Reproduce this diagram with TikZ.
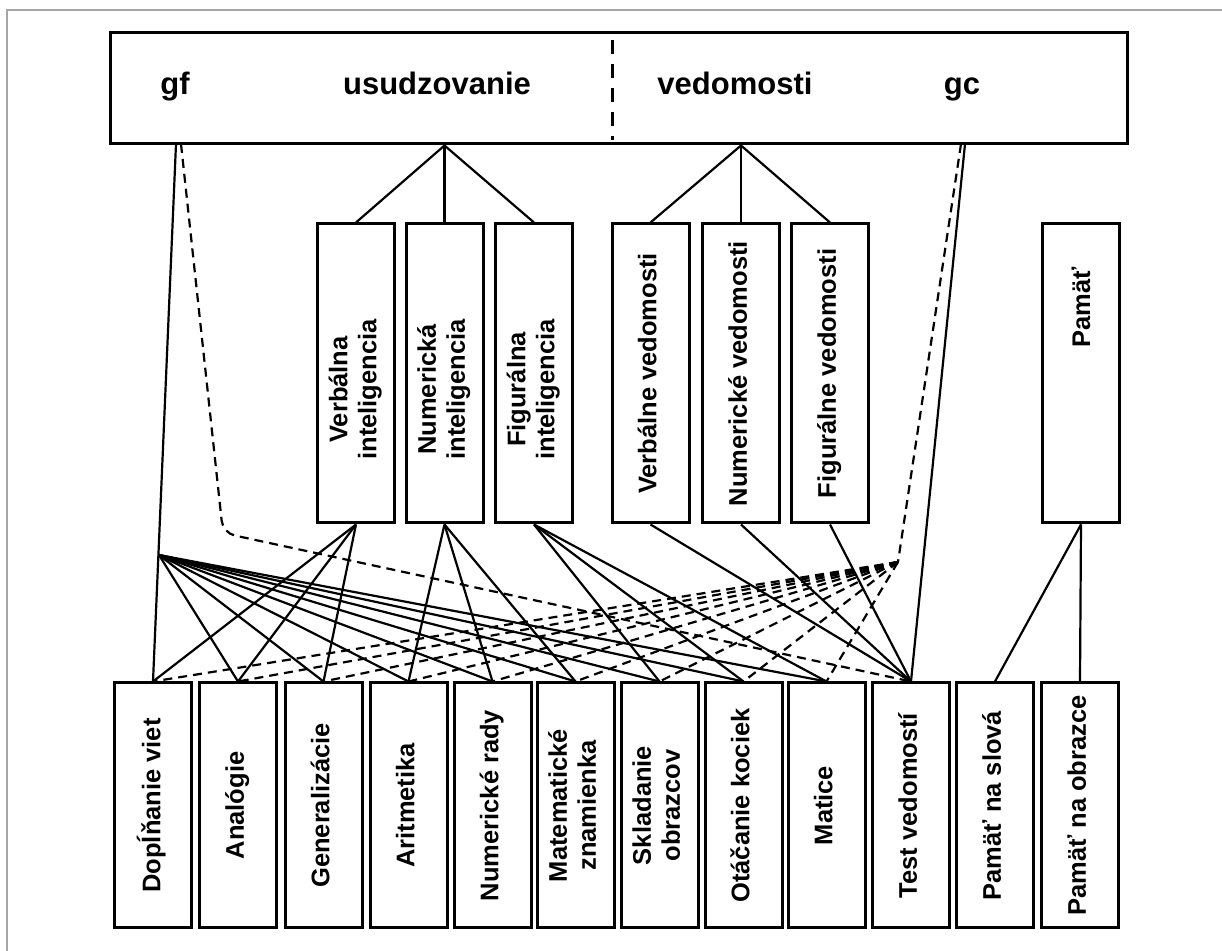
\documentclass[tikz,border=0pt]{standalone}
\usepackage{fontspec}
\setmainfont{Liberation Sans}
\usepackage{graphicx}
\usetikzlibrary{calc}

\newcommand{\vlab}[1]{\rotatebox{90}{\begin{tabular}{@{}c@{}}#1\end{tabular}}}
% two-line group labels sit a little below the middle of their box
\newcommand{\vlablow}[1]{\rotatebox{90}{\begin{tabular}{@{}c@{}}#1\end{tabular}\hspace{16pt}}}
% memory label sits in the upper part of its box
\newcommand{\vlabhigh}[1]{\rotatebox{90}{\hspace{66pt}#1}}

\tikzset{
    testbox/.style={draw, line width=1.5pt, inner sep=0pt, minimum width=38.5pt, minimum height=122.5pt, font=\fontsize{12.75}{14.5}\selectfont\bfseries},
    factorbox/.style={testbox, minimum height=149.5pt},
    toplabel/.style={anchor=base, inner sep=0pt, font=\fontsize{15.5}{18}\selectfont\bfseries},
    link/.style={line width=1.1pt},
    weaklink/.style={line width=1.1pt, dash pattern=on 4.5pt off 3pt},
}

\begin{document}
\begin{tikzpicture}[x=0.5pt, y=-0.5pt]
        \useasboundingbox (0,0) rectangle (1222,951);
        \draw [gray!70, line width=0.6pt] (7,951) -- (7,10) -- (1222,10);

        % top: the two broad factors
        \node[draw, line width=1.5pt, inner sep=0pt, minimum width=508.5pt, minimum height=55.5pt] at (618.5, 88.5) (top) {};
        \node[toplabel] at (175, 95)   (gf) {gf};
        \node[toplabel] at (437, 95)   (usud) {usudzovanie};
        \node[toplabel] at (735, 95)   (ved) {vedomosti};
        \node[toplabel] at (962, 95)   (gc) {gc};
        \draw [line width=1.5pt, dash pattern=on 7pt off 5pt] (612, 40) -- (612, 140);

        % middle: group factors
        \node[factorbox] at (356, 373.5)   (vi) {\vlablow{Verbálna\\inteligencia}};
        \node[factorbox] at (444.5, 373.5) (ni) {\vlablow{Numerická\\inteligencia}};
        \node[factorbox] at (534, 373.5)   (fi) {\vlablow{Figurálna\\inteligencia}};
        \node[factorbox] at (650.5, 373.5) (vv) {\vlab{Verbálne vedomosti}};
        \node[factorbox] at (741, 373.5)   (nv) {\vlab{Numerické vedomosti}};
        \node[factorbox] at (830, 373.5)   (fv) {\vlab{Figurálne vedomosti}};
        \node[factorbox] at (1081, 373.5)  (pam) {\vlabhigh{Pamäť}};

        % bottom: subtests
        \node[testbox] at (153, 805.5)   (dv) {\vlab{Dopĺňanie viet}};
        \node[testbox] at (238, 805.5)   (an) {\vlab{Analógie}};
        \node[testbox] at (323.5, 805.5) (ge) {\vlab{Generalizácie}};
        \node[testbox] at (408.5, 805.5) (ar) {\vlab{Aritmetika}};
        \node[testbox] at (492.5, 805.5) (nr) {\vlab{Numerické rady}};
        \node[testbox] at (575.5, 805.5) (mz) {\vlab{Matematické\\znamienka}};
        \node[testbox] at (659.5, 805.5) (so) {\vlab{Skladanie\\obrazcov}};
        \node[testbox] at (743.5, 805.5) (ok) {\vlab{Otáčanie kociek}};
        \node[testbox] at (826.5, 805.5) (ma) {\vlab{Matice}};
        \node[testbox] at (911, 805.5)   (tv) {\vlab{Test vedomostí}};
        \node[testbox] at (995, 805.5)   (ps) {\vlab{Pamäť na slová}};
        \node[testbox] at (1080, 805.5)  (po) {\vlab{Pamäť na obrazce}};

        \coordinate (gfs) at (176, 144);
        \coordinate (gfd) at (181, 144);
        \coordinate (gfhub) at (159, 555);
        \coordinate (gfbend) at (223, 533);
        \coordinate (gcs) at (965, 144);
        \coordinate (gcd) at (961, 144);
        \coordinate (gchub) at (898, 562);

        \draw [link] (top.south -| ni) -- (vi.north);
        \draw [link] (top.south -| ni) -- (ni.north);
        \draw [link] (top.south -| ni) -- (fi.north);
        \draw [link] (top.south -| nv) -- (vv.north);
        \draw [link] (top.south -| nv) -- (nv.north);
        \draw [link] (top.south -| nv) -- (fv.north);

        \draw [link] (vi.south) -- (dv.north);
        \draw [link] (vi.south) -- (an.north);
        \draw [link] (vi.south) -- (ge.north);
        \draw [link] (ni.south) -- (ar.north);
        \draw [link] (ni.south) -- (nr.north);
        \draw [link] (ni.south) -- (mz.north);
        \draw [link] (fi.south) -- (so.north);
        \draw [link] (fi.south) -- (ok.north);
        \draw [link] (fi.south) -- (ma.north);
        \draw [link] (vv.south) -- (tv.north);
        \draw [link] (nv.south) -- (tv.north);
        \draw [link] (fv.south) -- (tv.north);
        \draw [link] (pam.south) -- (ps.north);
        \draw [link] (pam.south) -- (po.north);

        % gf
        \draw [link] (gfs) -- (dv.north);
        \draw [link] (gfhub) -- (an.north);
        \draw [link] (gfhub) -- (ge.north);
        \draw [link] (gfhub) -- (ar.north);
        \draw [link] (gfhub) -- (nr.north);
        \draw [link] (gfhub) -- (mz.north);
        \draw [link] (gfhub) -- (so.north);
        \draw [link] (gfhub) -- (ok.north);
        \draw [link] (gfhub) -- (ma.north);
        \draw [weaklink, rounded corners=6pt] (gfd) -- (gfbend) -- (tv.north);

        % gc
        \draw [link] (gcs) -- (tv.north);
        \draw [weaklink] (gcd) -- (gchub);
        \draw [weaklink] (gchub) -- (dv.north);
        \draw [weaklink] (gchub) -- (an.north);
        \draw [weaklink] (gchub) -- (ge.north);
        \draw [weaklink] (gchub) -- (ar.north);
        \draw [weaklink] (gchub) -- (nr.north);
        \draw [weaklink] (gchub) -- (mz.north);
        \draw [weaklink] (gchub) -- (so.north);
        \draw [weaklink] (gchub) -- (ok.north);
        \draw [weaklink] (gchub) -- (ma.north);
    \end{tikzpicture}
\end{document}
